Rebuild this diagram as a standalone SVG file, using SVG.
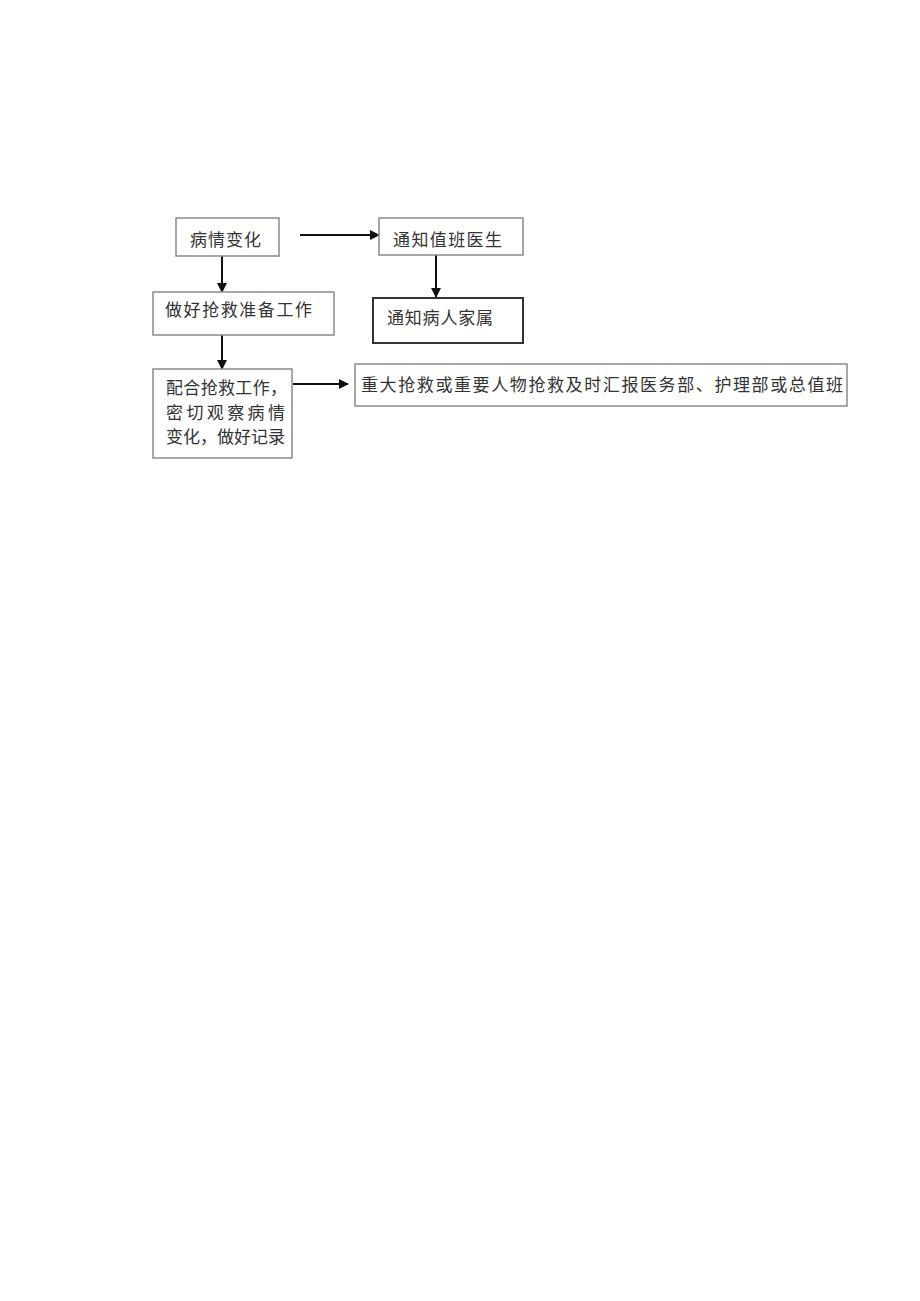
<svg xmlns="http://www.w3.org/2000/svg" width="920" height="1301" viewBox="0 0 920 1301">
<style>
.box{fill:#fff;stroke:#8a8a8a;stroke-width:1.5}
.box2{fill:#fff;stroke:#333;stroke-width:2}
.t{font-family:"Noto Sans CJK SC",sans-serif;font-size:17px;fill:#333}
.c{stroke:#111;stroke-width:2;fill:none}
</style>
<defs>
<marker id="ah" markerWidth="10" markerHeight="10" refX="9" refY="5" orient="auto" markerUnits="userSpaceOnUse">
<path d="M0,0 L10,5 L0,10 z" fill="#111"/>
</marker>
</defs>
<rect width="920" height="1301" fill="#fff"/>
<g id="connectors">
<line class="c" x1="300" y1="235" x2="379" y2="235" marker-end="url(#ah)"/>
<line class="c" x1="222" y1="256" x2="222" y2="292" marker-end="url(#ah)"/>
<line class="c" x1="436" y1="255" x2="436" y2="297" marker-end="url(#ah)"/>
<line class="c" x1="222" y1="335" x2="222" y2="369" marker-end="url(#ah)"/>
<line class="c" x1="293" y1="384" x2="348" y2="384" marker-end="url(#ah)"/>
</g>
<g id="n1">
<rect class="box" x="176" y="218" width="103" height="38"/>
<text class="t" x="190" y="246" textLength="71" lengthAdjust="spacing">病情变化</text>
</g>
<g id="n2">
<rect class="box" x="379" y="218" width="144" height="37"/>
<text class="t" x="393" y="246" textLength="109" lengthAdjust="spacing">通知值班医生</text>
</g>
<g id="n3">
<rect class="box" x="153" y="292" width="181" height="43"/>
<text class="t" x="165" y="316" textLength="147" lengthAdjust="spacing">做好抢救准备工作</text>
</g>
<g id="n4">
<rect class="box2" x="373" y="298" width="150" height="45"/>
<text class="t" x="387" y="324" textLength="106" lengthAdjust="spacing">通知病人家属</text>
</g>
<g id="n5">
<rect class="box" x="153" y="369" width="139" height="89"/>
<text class="t" x="166" y="394" textLength="121" lengthAdjust="spacing">配合抢救工作，</text>
<text class="t" x="166" y="419" textLength="119" lengthAdjust="spacing">密切观察病情</text>
<text class="t" x="166" y="443" textLength="119" lengthAdjust="spacing">变化，做好记录</text>
</g>
<g id="n6">
<rect class="box" x="355" y="364" width="492" height="42"/>
<text class="t" x="361" y="391" textLength="482" lengthAdjust="spacing">重大抢救或重要人物抢救及时汇报医务部、护理部或总值班</text>
</g>
</svg>
